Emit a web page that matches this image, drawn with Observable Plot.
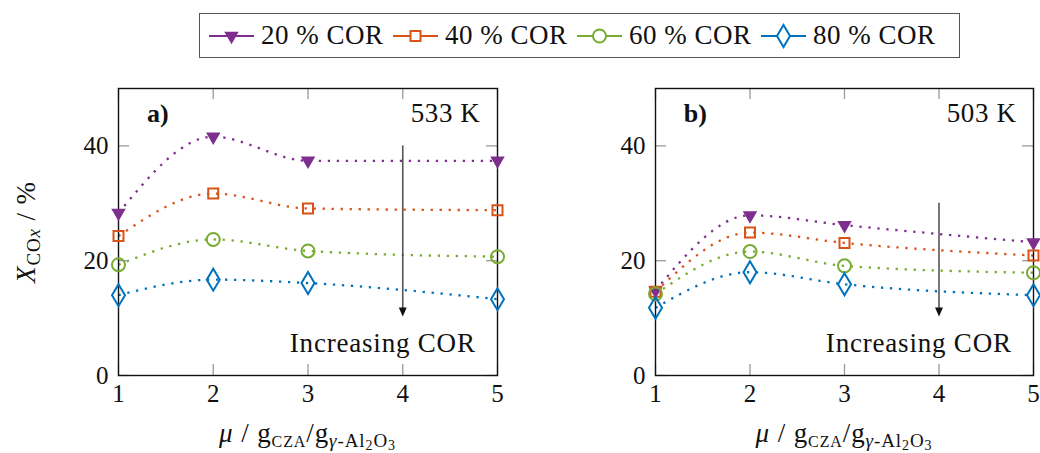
<!DOCTYPE html>
<html>
<head>
<meta charset="utf-8">
<script src="https://cdn.jsdelivr.net/npm/d3@7"></script>
<script src="https://cdn.jsdelivr.net/npm/@observablehq/plot@0.6"></script>
<style>
  html, body { margin: 0; padding: 0; background: #fff; }
  body { width: 1040px; height: 453px; overflow: hidden; font-family: "Liberation Serif", serif; }
  #legendRow { height: 70px; position: relative; }
  #legend {
    position: absolute; left: 199px; top: 13px; width: 750px; height: 43px;
    border: 1.3px solid #555; display: flex; align-items: center; padding-left: 9px; box-sizing: content-box;
  }
  .item { display: flex; align-items: center; }
  .item svg { display: block; }
  .item span { display: inline-block; width: 122px; margin-left: 7px; margin-right: 10px; font-size: 27px; letter-spacing: 0.5px; color: #111; white-space: nowrap; }
  #plots { display: flex; flex-direction: row; }
  #plots svg { display: block; overflow: visible; }
</style>
</head>
<body>
<div id="legendRow"><div id="legend"></div></div>
<div id="plots"></div>
<script>
// Catalyst ratio μ on the x axis
const mu = [1, 2, 3, 5];
const seriesNames = ["20 % COR", "40 % COR", "60 % COR", "80 % COR"];
const seriesColors = ["#7E2F8E", "#D95319", "#77AC30", "#0072BD"];
const yTicks = [0, 20, 40];
const xTicks = [1, 2, 3, 4, 5];

// CO_x conversion (%) at 533 K
const k533_cor20 = [28.3, 41.6, 37.4, 37.4];
const k533_cor40 = [24.3, 31.7, 29.1, 28.8];
const k533_cor60 = [19.3, 23.7, 21.7, 20.7];
const k533_cor80 = [14.0, 16.7, 16.1, 13.3];

// CO_x conversion (%) at 503 K
const k503_cor20 = [14.8, 27.9, 26.2, 23.2];
const k503_cor40 = [14.6, 24.9, 23.1, 20.9];
const k503_cor60 = [14.2, 21.6, 19.1, 17.9];
const k503_cor80 = [11.8, 18.0, 15.9, 14.0];

// Trend arrow (from, to) for each panel
const arrow533 = [40, 10.3];
const arrow503 = [30, 10.3];

// Marker shapes (pgfplots-like)
const triangleDown = {
  draw(ctx, size) {
    const s = Math.sqrt(size / Math.PI);
    ctx.moveTo(-5.5 * s, -3.2 * s);
    ctx.lineTo(5.5 * s, -3.2 * s);
    ctx.lineTo(0, 6.3 * s);
    ctx.closePath();
  }
};
const square = {
  draw(ctx, size) {
    const s = Math.sqrt(size / Math.PI);
    ctx.rect(-5 * s, -5 * s, 10 * s, 10 * s);
  }
};
const ring = {
  draw(ctx, size) {
    const s = Math.sqrt(size / Math.PI);
    ctx.moveTo(6.5 * s, 0);
    ctx.arc(0, 0, 6.5 * s, 0, 2 * Math.PI);
  }
};
const diamond = {
  draw(ctx, size) {
    const s = Math.sqrt(size / Math.PI);
    ctx.moveTo(0, -11 * s);
    ctx.lineTo(6.5 * s, 0);
    ctx.lineTo(0, 11 * s);
    ctx.lineTo(-6.5 * s, 0);
    ctx.closePath();
  }
};
const arrowHead = {
  draw(ctx, size) {
    const s = Math.sqrt(size / Math.PI);
    ctx.moveTo(-4 * s, -9 * s);
    ctx.lineTo(4 * s, -9 * s);
    ctx.lineTo(0, 0);
    ctx.closePath();
  }
};
const symbols = [triangleDown, square, ring, diamond];

function rows(values) {
  return values.flatMap((vals, i) => mu.map((m, j) => ({series: seriesNames[i], idx: i, mu: m, X: vals[j]})));
}

const panels = [
  {
    tag: "a)", temp: "533 K", arrow: arrow533,
    data: rows([k533_cor20, k533_cor40, k533_cor60, k533_cor80]),
    marginLeft: 118, marginRight: 23
  },
  {
    tag: "b)", temp: "503 K", arrow: arrow503,
    data: rows([k503_cor20, k503_cor40, k503_cor60, k503_cor80]),
    marginLeft: 135, marginRight: 7
  }
];

const FONT = "Liberation Serif";
const tickColor = "#9a9a9a";
const tickLenX = 11 / 94.6;   // inward tick length in x units
const tickLenY = 11 / 5.75;   // inward tick length in y units

function makePanel(p) {
  const lines = seriesNames.map((name, i) =>
    Plot.line(p.data.filter(d => d.idx === i), {
      x: "mu", y: "X", curve: "monotone-x",
      stroke: seriesColors[i], strokeWidth: 2.3,
      strokeLinecap: "butt",
      strokeDasharray: "2.3 6.7"
    })
  );
  const dots = seriesNames.map((name, i) =>
    Plot.dot(p.data.filter(d => d.idx === i), {
      x: "mu", y: "X", r: 1, symbol: symbols[i],
      stroke: seriesColors[i], strokeWidth: 2,
      fill: i === 0 ? seriesColors[i] : "none"
    })
  );
  return Plot.plot({
    width: 520, height: 383,
    marginTop: 18, marginBottom: 78,
    marginLeft: p.marginLeft, marginRight: p.marginRight,
    x: {domain: [1, 5]},
    y: {domain: [0, 50]},
    style: {fontFamily: FONT, fontSize: "25px", color: "#111", background: "white", overflow: "visible"},
    marks: [
      ...lines,
      // inward ticks on all four sides
      Plot.ruleX(xTicks, {y1: 0, y2: tickLenY, stroke: tickColor, strokeWidth: 1.3}),
      Plot.ruleX(xTicks, {y1: 50, y2: 50 - tickLenY, stroke: tickColor, strokeWidth: 1.3}),
      Plot.ruleY(yTicks, {x1: 1, x2: 1 + tickLenX, stroke: tickColor, strokeWidth: 1.3}),
      Plot.ruleY(yTicks, {x1: 5, x2: 5 - tickLenX, stroke: tickColor, strokeWidth: 1.3}),
      Plot.frame({stroke: "#111", strokeWidth: 1.4}),
      Plot.axisX({ticks: xTicks, tickFormat: d => String(d), tickSize: 0, tickPadding: 9, label: null, fontSize: 25}),
      Plot.axisY({ticks: yTicks, tickFormat: d => String(d), tickSize: 0, tickPadding: 10, label: null, fontSize: 25}),
      // trend arrow
      Plot.ruleX([4], {y1: p.arrow[0], y2: p.arrow[1] + 1.2, stroke: "#555", strokeWidth: 1.6}),
      Plot.dot([{x: 4, y: p.arrow[1]}], {x: "x", y: "y", r: 1, symbol: arrowHead, fill: "#111", stroke: "none"}),
      Plot.text([p.tag], {x: 1.30, y: 45.6, text: d => d, textAnchor: "start", fontWeight: "bold", fontSize: 26}),
      Plot.text([p.temp], {x: 4.82, y: 45.6, text: d => d, textAnchor: "end", fontSize: 27}),
      Plot.text(["Increasing COR"], {x: 4.77, y: 5.6, text: d => d, textAnchor: "end", fontSize: 27}),
      ...dots
    ]
  });
}

// rich text with sub/sub-sub scripts
const levelSize = [27, 19, 14];
const levelShift = [0, 5, 8];
function richText(parent, x, y, parts, transform) {
  const t = parent.append("text")
    .attr("text-anchor", "middle")
    .attr("font-family", FONT)
    .attr("font-size", 27)
    .attr("letter-spacing", "0.9px")
    .attr("fill", "#111");
  if (transform) t.attr("transform", transform); else t.attr("x", x).attr("y", y);
  let prev = 0;
  for (const part of parts) {
    const lvl = part.level || 0;
    const ts = t.append("tspan")
      .attr("dy", levelShift[lvl] - levelShift[prev])
      .attr("font-size", levelSize[lvl])
      .text(part.t);
    if (part.italic) ts.attr("font-style", "italic");
    if (part.sc) ts.attr("font-size", levelSize[lvl] - 3);
    prev = lvl;
  }
  return t;
}

const yLabel = [
  {t: "X", italic: true},
  {t: "CO", level: 1},
  {t: "x", level: 1, italic: true},
  {t: " / %"}
];
const xLabel = [
  {t: "μ", italic: true},
  {t: " / g"},
  {t: "CZA", level: 1, sc: true},
  {t: "/g"},
  {t: "γ", level: 1, italic: true},
  {t: "-Al", level: 1},
  {t: "2", level: 2},
  {t: "O", level: 1},
  {t: "3", level: 2}
];

const container = document.getElementById("plots");
panels.forEach((p, i) => {
  const svg = makePanel(p);
  const s = d3.select(svg);
  // widen the serif annotations slightly
  s.selectAll("text").filter(function() { return this.textContent === "Increasing COR"; })
    .attr("letter-spacing", "0.8px");
  s.selectAll("text").filter(function() { return /^5\d3 K$/.test(this.textContent); })
    .attr("letter-spacing", "0.6px");
  const cx = p.marginLeft + (520 - p.marginLeft - p.marginRight) / 2;
  richText(s, cx, 372, xLabel);
  if (i === 0) richText(s, 0, 0, yLabel, "translate(35,162) rotate(-90)");
  container.appendChild(svg);
});

// legend
const legend = d3.select("#legend");
seriesNames.forEach((name, i) => {
  const item = legend.append("div").attr("class", "item");
  const svg = item.append("svg").attr("width", 45).attr("height", 30);
  svg.append("line").attr("x1", 0).attr("x2", 45).attr("y1", 15).attr("y2", 15)
    .attr("stroke", seriesColors[i]).attr("stroke-width", 2.2);
  const path = d3.path();
  symbols[i].draw(path, Math.PI);
  svg.append("path").attr("d", path.toString()).attr("transform", "translate(22.5,15)")
    .attr("stroke", seriesColors[i]).attr("stroke-width", 2)
    .attr("fill", i === 0 ? seriesColors[i] : "white");
  item.append("span").text(name);
});
</script>
</body>
</html>
